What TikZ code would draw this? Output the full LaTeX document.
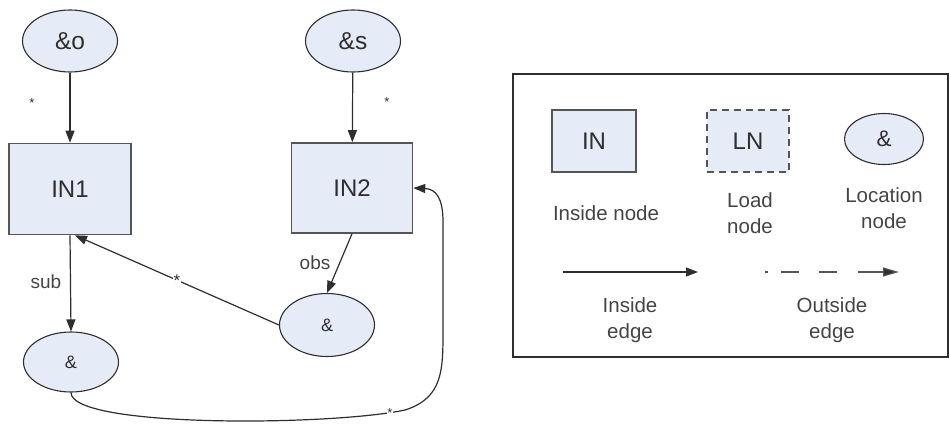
\documentclass[tikz,border=0pt]{standalone}
\usepackage{fontspec}
\setmainfont{Liberation Sans}
\usetikzlibrary{arrows.meta,shapes.geometric}

\definecolor{nodefill}{HTML}{E6ECF7}
\definecolor{boxline}{HTML}{555555}
\definecolor{ink}{HTML}{2E2E2E}
\definecolor{labelink}{HTML}{444444}

\tikzset{
  insidebox/.style={draw=boxline, fill=nodefill, line width=1.6pt, inner sep=0pt,
    minimum width=122pt, minimum height=91pt, text=ink, font=\fontsize{24}{27}\selectfont},
  locnode/.style={ellipse, draw=ink, fill=nodefill, line width=1.1pt, inner sep=0pt,
    minimum width=95pt, minimum height=62pt, text=ink},
  bigtext/.style={font=\fontsize{24.5}{27}\selectfont},
  smalltext/.style={font=\fontsize{18}{20}\selectfont},
  edgelabel/.style={text=labelink, font=\fontsize{19}{21}\selectfont, inner sep=1pt},
  starlabel/.style={text=ink, font=\fontsize{13}{13}\selectfont, inner sep=0.5pt},
  legendtext/.style={text=labelink, font=\fontsize{20.5}{26}\selectfont, align=center, inner sep=0pt},
  edge/.style={draw=ink, line width=1.2pt, -{Triangle[length=12pt,width=9pt]}},
}

\begin{document}
\begin{tikzpicture}[x=1pt,y=-1pt]
\useasboundingbox (0,0) rectangle (950,423);

% ---- graph ----
\node[locnode, bigtext] (o) at (70,41) {\&o};
\node[locnode, bigtext] (s) at (353,41) {\&s};
\node[insidebox] (in1) at (70,189) {IN1};
\node[insidebox, minimum width=121pt, minimum height=90pt] (in2) at (352,188) {IN2};
\node[locnode, smalltext, minimum height=60pt] (b1) at (71,362) {\&};
\node[locnode, smalltext, minimum height=63pt] (l2) at (327,325) {\&};

\draw[edge] (o) -- (in1);
\draw[edge] (s) -- (in2);
\node[starlabel] (st1) at (32,103) {*};
\node[starlabel] (st2) at (387,102) {*};

\draw[edge] (in1.south) -- (b1.north);
\node[edgelabel] (sub) at (46,282) {sub};

\draw[edge] (in2.south) -- (l2.north);
\node[edgelabel] (obs) at (315,263) {obs};

\draw[edge] (l2.west) -- node[pos=0.5, starlabel, fill=white, font=\fontsize{17}{17}\selectfont] (st3) {*} ([xshift=5pt]in1.south);

\draw[edge] (b1.south) .. controls (71,428) and (330,426) .. (405,410)
  .. controls (443,398) and (443,370) .. (443,330)
  -- (443,222) .. controls (443,198) and (436,189) .. (in2.east);
\node[starlabel, fill=white, inner sep=0.3pt] (st4) at (390,413) {*};

% ---- legend ----
\draw[draw=ink, line width=2.2pt] (513,74) rectangle (948,357);

\node[insidebox, minimum width=84pt, minimum height=62pt, font=\fontsize{24}{27}\selectfont] (lin) at (594,141) {IN};
\node[draw=boxline, fill=nodefill, line width=1.6pt, dash pattern=on 7pt off 5pt,
  inner sep=0pt, minimum width=82pt, minimum height=62pt, text=ink,
  font=\fontsize{24}{27}\selectfont] (lln) at (748,141) {LN};
\node[locnode, font=\fontsize{22.5}{25}\selectfont, minimum width=79pt, minimum height=51pt] (lloc) at (884,139) {\&};

\node[legendtext] (tin) at (606,213) {Inside node};
\node[legendtext] (tln) at (750,213) {Load\\node};
\node[legendtext] (tloc) at (884,208) {Location\\node};

\coordinate (ia) at (563,272);
\coordinate (ib) at (698,272);
\draw[edge] (ia) -- (ib);
\coordinate (oa) at (765,272);
\coordinate (ob) at (899,272);
\draw[draw=boxline, line width=1.2pt, dash pattern=on 2.5pt off 13.5pt on 18pt off 20pt on 18pt off 21pt on 60pt,
  -{Triangle[length=16pt,width=9pt,fill=ink]}] (oa) -- (ob);

\node[legendtext] (tie) at (630,320) {Inside\\edge};
\node[legendtext] (toe) at (832,320) {Outside\\edge};
\end{tikzpicture}
\end{document}
